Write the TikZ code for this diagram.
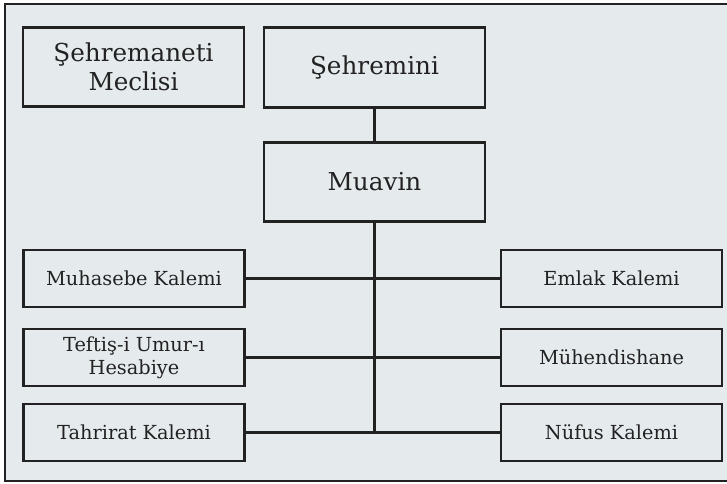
\documentclass[tikz,border=0pt]{standalone}
\usepackage{fontspec}
\setmainfont{DejaVu Serif}
\usetikzlibrary{positioning}
\definecolor{paper}{HTML}{E5EAED}
\definecolor{ink}{HTML}{222222}
\tikzset{
  unit/.style={draw=ink, line width=2.2pt, fill=paper, text=ink, inner sep=0pt,
    minimum width=165.75pt, align=center},
  bigunit/.style={unit, minimum height=59.5pt, font=\fontsize{18.5}{22}\selectfont},
  smallunit/.style={unit, minimum height=42.75pt, font=\fontsize{14.5}{17}\selectfont},
  link/.style={draw=ink, line width=2.2pt}
}
\begin{document}
\begin{tikzpicture}[x=0.75pt,y=-0.75pt]
  \useasboundingbox (0,0) rectangle (727,483);
  % frame
  \draw [draw=ink, fill=paper, line width=2.2pt] (5,4) rectangle (740,481);
  % top
  \node [bigunit] (meclis) at (133.5,67) {Şehremaneti\\Meclisi};
  \node [bigunit] (sehremini) at (374.5,67.5) {Şehremini};
  \node [bigunit] (muavin) at (374.5,182) {Muavin};
  % left
  \node [smallunit] (muhasebe) at (134,278.5) {Muhasebe Kalemi};
  \node [smallunit] (teftis) at (134,357.5) {Teftiş-i Umur-ı\\Hesabiye};
  \node [smallunit] (tahrirat) at (134,432.5) {Tahrirat Kalemi};
  % right
  \node [smallunit] (emlak) at (611.5,278.5) {Emlak Kalemi};
  \node [smallunit] (muhendis) at (611.5,357.5) {Mühendishane};
  \node [smallunit] (nufus) at (611.5,432.5) {Nüfus Kalemi};
  \coordinate (spine) at (374.5,432.5);
  % connectors
  \draw [link] (sehremini) -- (muavin);
  \draw [link] (muavin) -- (spine);
  \draw [link] (muhasebe) -- (emlak);
  \draw [link] (teftis) -- (muhendis);
  \draw [link] (tahrirat) -- (nufus);
\end{tikzpicture}
\end{document}
